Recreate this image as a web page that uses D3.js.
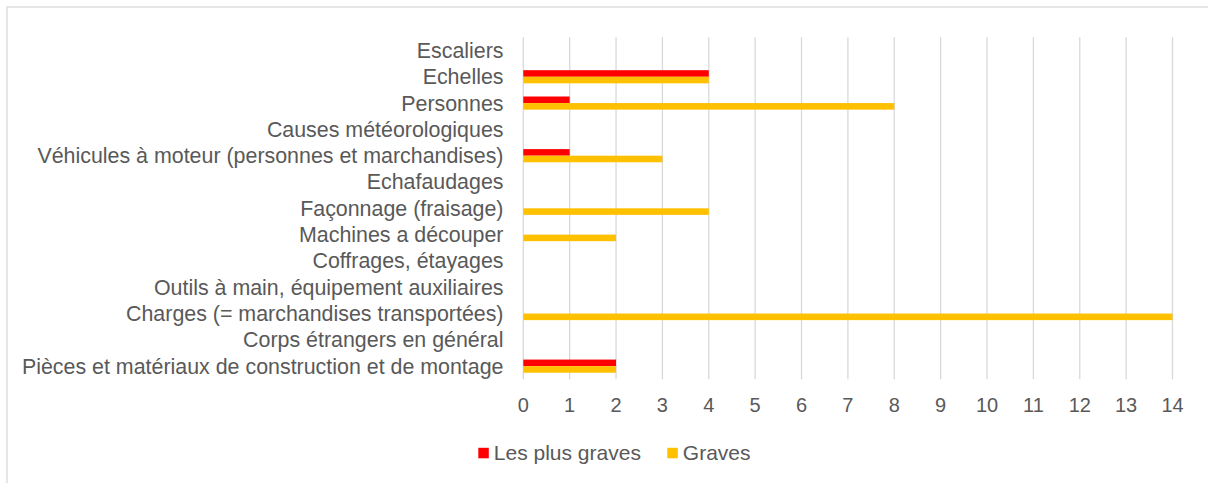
<!DOCTYPE html>
<html>
<head>
<meta charset="utf-8">
<script src="https://cdn.jsdelivr.net/npm/d3@7"></script>
<style>
  body { margin: 0; background: #fff; }
  text { font-family: "Liberation Sans", Arial, sans-serif; fill: #595959; }
</style>
</head>
<body>
<div id="chart"></div>
<script>
// categories, top to bottom as shown
var categories = [
    "Escaliers",
    "Echelles",
    "Personnes",
    "Causes météorologiques",
    "Véhicules à moteur (personnes et marchandises)",
    "Echafaudages",
    "Façonnage (fraisage)",
    "Machines a découper",
    "Coffrages, étayages",
    "Outils à main, équipement auxiliaires",
    "Charges (= marchandises transportées)",
    "Corps étrangers en général",
    "Pièces et matériaux de construction et de montage"
];
var plusGraves = [0, 4, 1, 0, 1, 0, 0, 0, 0, 0, 0, 0, 2];
var graves     = [0, 4, 8, 0, 3, 0, 4, 2, 0, 0, 14, 0, 2];
var seriesNames = ["Les plus graves", "Graves"];
var seriesColors = ["#ff0000", "#ffc000"];
var xTicks = d3.range(0, 15);

var W = 1208, H = 483;
var margin = {top: 37.3, left: 523.3, right: 1172.5, bottom: 379.3};

var svg = d3.select("#chart").append("svg")
    .attr("width", W)
    .attr("height", H);

// chart border
svg.append("rect")
    .attr("x", 7)
    .attr("y", 7)
    .attr("width", W + 20)
    .attr("height", H + 20)
    .attr("fill", "none")
    .attr("stroke", "#d9d9d9")
    .attr("stroke-width", 1.3);

var x = d3.scaleLinear()
    .domain([0, 14])
    .range([margin.left, margin.right]);

var y = d3.scaleBand()
    .domain(categories)
    .range([margin.top, margin.bottom])
    .paddingInner(0.5)
    .paddingOuter(0.25);

var ySub = d3.scaleBand()
    .domain(seriesNames)
    .range([0, y.bandwidth()]);

// gridlines
svg.append("g")
    .selectAll("line")
    .data(xTicks)
    .join("line")
    .attr("x1", d => x(d))
    .attr("x2", d => x(d))
    .attr("y1", margin.top)
    .attr("y2", margin.bottom)
    .attr("stroke", "#d9d9d9")
    .attr("stroke-width", 1.3);

// tick labels
svg.append("g")
    .selectAll("text")
    .data(xTicks)
    .join("text")
    .attr("x", d => x(d))
    .attr("y", 405)
    .attr("dy", "0.35em")
    .attr("text-anchor", "middle")
    .style("font-size", "20px")
    .text(d => d);

// category labels
svg.append("g")
    .selectAll("text")
    .data(categories)
    .join("text")
    .attr("x", 503.5)
    .attr("y", d => y(d) + y.bandwidth() / 2)
    .attr("dy", "0.35em")
    .attr("text-anchor", "end")
    .style("font-size", "21.4px")
    .text(d => d);

// bars
var rows = categories.map((c, i) => ({cat: c, values: [plusGraves[i], graves[i]]}));
var groups = svg.append("g")
    .selectAll("g")
    .data(rows)
    .join("g")
    .attr("transform", d => "translate(0," + y(d.cat) + ")");

groups.selectAll("rect")
    .data(d => d.values.map((v, j) => ({name: seriesNames[j], value: v, color: seriesColors[j]})))
    .join("rect")
    .attr("x", x(0))
    .attr("y", d => ySub(d.name))
    .attr("width", d => x(d.value) - x(0))
    .attr("height", ySub.bandwidth())
    .attr("fill", d => d.color);

// legend
var legendX = [478.3, 667.3];
var legend = svg.append("g")
    .selectAll("g")
    .data(seriesNames)
    .join("g")
    .attr("transform", (d, i) => "translate(" + legendX[i] + ",453)");

legend.append("rect")
    .attr("x", 0)
    .attr("y", -5.2)
    .attr("width", 10.5)
    .attr("height", 10.5)
    .attr("fill", (d, i) => seriesColors[i]);

legend.append("text")
    .attr("x", 15.5)
    .attr("y", 0)
    .attr("dy", "0.35em")
    .style("font-size", "21px")
    .text(d => d);
</script>
</body>
</html>
